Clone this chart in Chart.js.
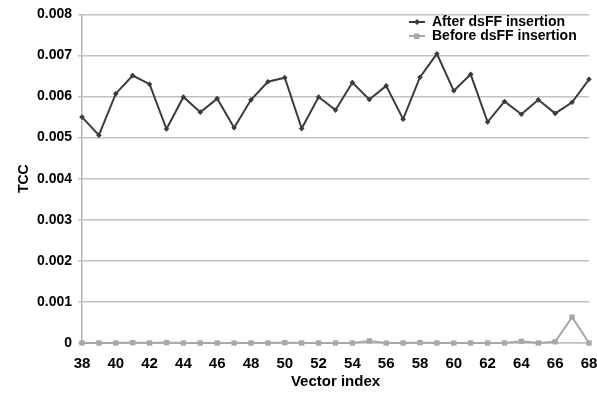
<!DOCTYPE html>
<html>
<head>
<meta charset="utf-8">
<script src="https://cdn.jsdelivr.net/npm/chart.js@4.4.0/dist/chart.umd.min.js"></script>
<style>
  html, body { margin: 0; padding: 0; background: #fff; }
  #wrap { width: 597px; height: 393px; }
</style>
</head>
<body>
<div id="wrap"><canvas id="tcc-chart" width="597" height="393"></canvas></div>
<script>
// Chart data
const vectorIndex = [38, 39, 40, 41, 42, 43, 44, 45, 46, 47, 48, 49, 50, 51, 52, 53,
  54, 55, 56, 57, 58, 59, 60, 61, 62, 63, 64, 65, 66, 67, 68];
const afterInsertion = [0.0055, 0.00506, 0.00607, 0.00651, 0.0063, 0.00521, 0.00599, 0.00562,
  0.00595, 0.00524, 0.00592, 0.00636, 0.00646, 0.00522, 0.00599, 0.00567, 0.00634, 0.00593,
  0.00626, 0.00545, 0.00647, 0.00704, 0.00614, 0.00654, 0.00538, 0.00588, 0.00557, 0.00592,
  0.00559, 0.00586, 0.00642];
const beforeInsertion = [0, 0, 0, 0.00001, 0, 0.00001, 0, 0, 0, 0, 0, 0, 0.00001, 0, 0, 0,
  0, 0.00005, 0, 0, 0.00001, 0, 0, 0, 0, 0, 0.00004, 0, 0.00003, 0.00063, 0];
const seriesNames = ['After dsFF insertion', 'Before dsFF insertion'];

const darkColor = '#3c3c3c';
const lightColor = '#a8a8a8';
const gridColor = '#c2c2c2';

// legend symbol: short line with the marker on it
function legendSymbol(color, shape) {
  const c = document.createElement('canvas');
  c.width = 16; c.height = 8;
  const g = c.getContext('2d');
  g.strokeStyle = color; g.fillStyle = color; g.lineWidth = 2;
  g.beginPath(); g.moveTo(0, 4); g.lineTo(16, 4); g.stroke();
  g.beginPath();
  if (shape === 'diamond') {
    g.moveTo(8, 1); g.lineTo(11, 4); g.lineTo(8, 7); g.lineTo(5, 4);
  } else {
    g.rect(5, 1.5, 5.5, 5.5);
  }
  g.closePath(); g.fill();
  return c;
}
const legendSymbols = [legendSymbol(darkColor, 'diamond'), legendSymbol(lightColor, 'square')];

// move the legend to the top right of the plot area
const legendPlacer = {
  id: 'legendPlacer',
  afterLayout(chart) {
    const lg = chart.legend;
    if (!lg) return;
    const w = lg.width;
    lg.left = 409;
    lg.right = 409 + w;
    lg.top = 15;
    lg.bottom = 15 + lg.height;
  }
};

const ctx = document.getElementById('tcc-chart').getContext('2d');
new Chart(ctx, {
  type: 'line',
  data: {
    datasets: [
      {
        label: seriesNames[0],
        data: vectorIndex.map((x, i) => ({ x: x, y: afterInsertion[i] })),
        borderColor: darkColor,
        backgroundColor: darkColor,
        borderWidth: 2,
        pointStyle: 'rectRot',
        pointRadius: 2.8,
        pointBorderWidth: 0,
        tension: 0,
        clip: false
      },
      {
        label: seriesNames[1],
        data: vectorIndex.map((x, i) => ({ x: x, y: beforeInsertion[i] })),
        borderColor: lightColor,
        backgroundColor: lightColor,
        borderWidth: 2,
        pointStyle: 'rect',
        pointRadius: 3.8,
        pointBorderWidth: 0,
        tension: 0,
        clip: false
      }
    ]
  },
  options: {
    responsive: false,
    animation: false,
    layout: { padding: { left: 0, right: 0, top: 12, bottom: 0 } },
    scales: {
      x: {
        type: 'linear',
        min: 38,
        max: 68,
        grid: { display: false },
        border: { color: gridColor, width: 1.5 },
        ticks: {
          stepSize: 2,
          padding: 4,
          color: '#000',
          font: { family: 'Liberation Sans, Arial, sans-serif', size: 15, weight: 'bold' }
        },
        title: {
          display: true,
          text: 'Vector index',
          color: '#000',
          padding: { top: 0, bottom: 2 },
          font: { family: 'Liberation Sans, Arial, sans-serif', size: 15, weight: 'bold' }
        },
        afterFit(scale) {
          scale.height = 50;
          scale.paddingRight = 8;
        }
      },
      y: {
        min: 0,
        max: 0.008,
        grid: { color: gridColor, lineWidth: 1.5, tickLength: 4, tickColor: gridColor },
        border: { color: '#b4b4b4', width: 1.5 },
        ticks: {
          stepSize: 0.001,
          padding: 6,
          color: '#000',
          font: { family: 'Liberation Sans, Arial, sans-serif', size: 14, weight: 'bold' },
          callback: v => (v === 0 ? '0' : v.toFixed(3))
        },
        title: {
          display: true,
          text: 'TCC',
          color: '#000',
          padding: { top: 16, bottom: 0 },
          font: { family: 'Liberation Sans, Arial, sans-serif', size: 14, weight: 'bold' }
        },
        afterFit(scale) { scale.width = 82; }
      }
    },
    plugins: {
      tooltip: { enabled: false },
      legend: {
        position: 'chartArea',
        align: 'start',
        labels: {
          color: '#000',
          padding: 0,
          usePointStyle: true,
          pointStyleWidth: 16,
          font: { family: 'Liberation Sans, Arial, sans-serif', size: 14, weight: 'bold' },
          generateLabels(chart) {
            const items = Chart.defaults.plugins.legend.labels.generateLabels(chart);
            items.forEach((it, i) => { it.pointStyle = legendSymbols[i]; });
            return items;
          }
        }
      }
    }
  },
  plugins: [legendPlacer]
});
</script>
</body>
</html>
